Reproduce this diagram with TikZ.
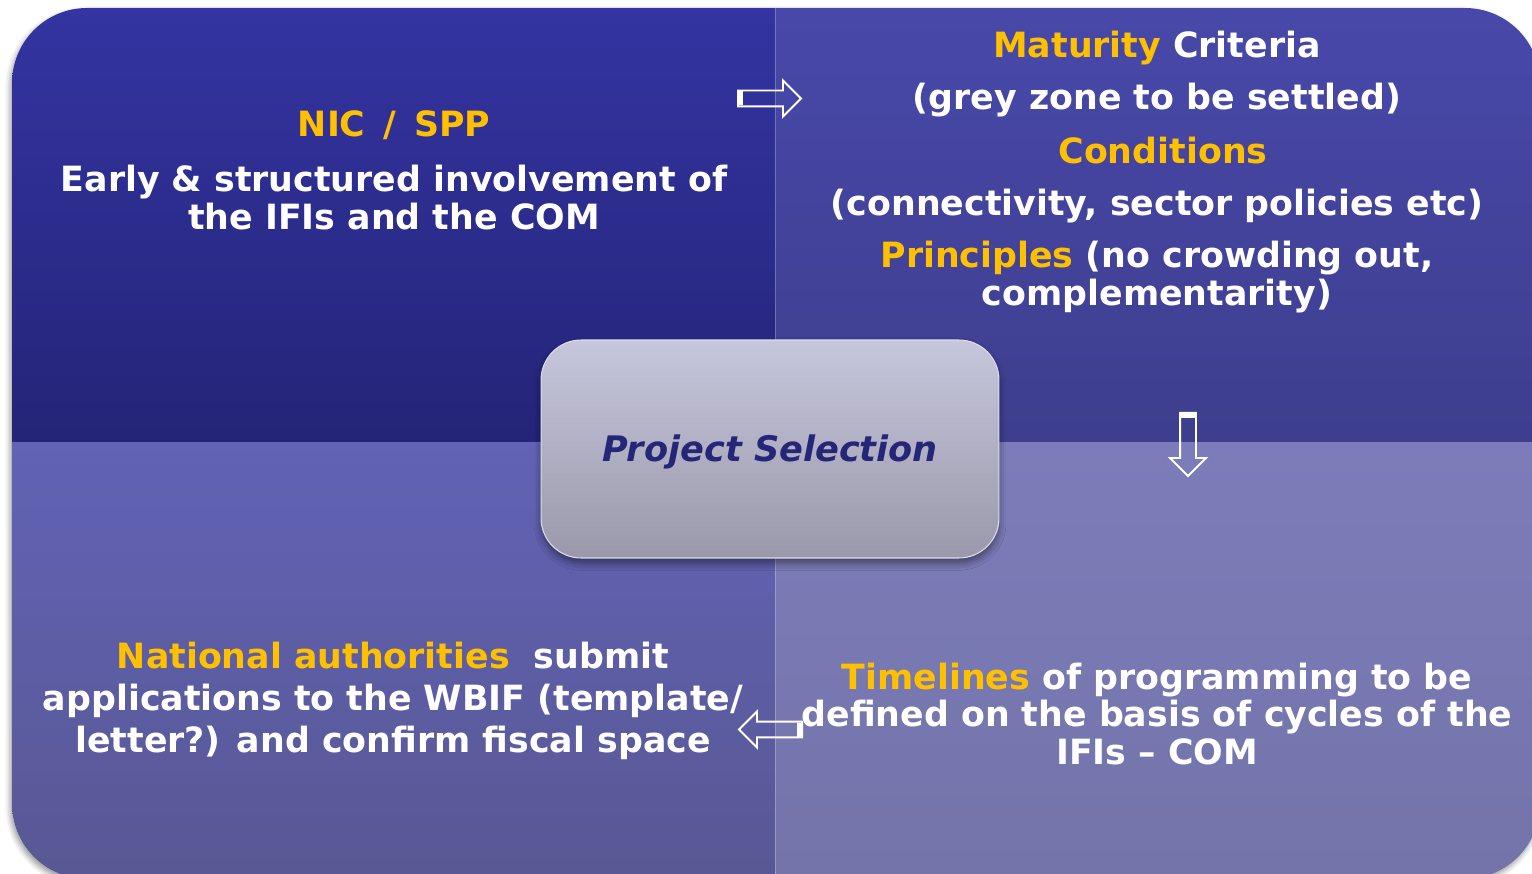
\documentclass[tikz,border=0pt]{standalone}
\usepackage{fontspec}
\setmainfont{DejaVu Sans}
\usetikzlibrary{positioning}
\usetikzlibrary{calc}
\usetikzlibrary{shapes.arrows}
\usetikzlibrary{shadows.blur}
\definecolor{oro}{RGB}{255,192,0}
\definecolor{bluA}{RGB}{52,52,162}
\definecolor{bluB}{RGB}{36,36,120}
\definecolor{violaA}{RGB}{72,72,170}
\definecolor{violaB}{RGB}{62,62,142}
\definecolor{lillaA}{RGB}{98,98,182}
\definecolor{lillaB}{RGB}{88,88,148}
\definecolor{glicineA}{RGB}{124,124,186}
\definecolor{glicineB}{RGB}{116,116,170}
\definecolor{grigioA}{RGB}{198,198,220}
\definecolor{grigioB}{RGB}{154,152,170}
\definecolor{inchiostro}{RGB}{38,38,120}
\newcommand{\evid}[1]{{\color{oro}#1}}

\begin{document}
\begin{tikzpicture}[x=0.02cm,y=-0.02cm,
testo/.style={text=white,font=\fontsize{19.8}{22}\selectfont\bfseries,align=center,inner sep=0pt,anchor=base},
testoL/.style={testo,font=\fontsize{19.8}{23.8}\selectfont\bfseries},
testoB/.style={testo,font=\fontsize{19.8}{21.3}\selectfont\bfseries},
freccia/.style={single arrow,draw=white,line width=1.1pt,minimum height=1.26cm,inner sep=0.14cm,single arrow head extend=0.2cm,anchor=tail},
selez/.style={draw=grigioA!60!white,line width=0.6pt,rounded corners=0.8cm,minimum width=9.16cm,minimum height=4.36cm,text height=16pt,text depth=1.2pt,top color=grigioA,bottom color=grigioB,text=inchiostro,font=\fontsize{20}{24}\selectfont\bfseries\itshape,blur shadow={shadow xshift=0pt,shadow yshift=-3pt,shadow blur radius=4pt,shadow opacity=45}}
]
\useasboundingbox (0,0) rectangle (1532,874);
%-- pannello
\fill[white,rounded corners=1.5cm,blur shadow={shadow xshift=-1pt,shadow yshift=-2pt,shadow blur radius=3pt,shadow opacity=40}] (12,8) rectangle (1540,879);
\begin{scope}
\clip[rounded corners=1.5cm] (12,8) rectangle (1540,879);
\shade[top color=bluA,bottom color=bluB] (12,8) rectangle (775.5,443);
\shade[top color=violaA,bottom color=violaB] (775.5,8) rectangle (1540,443);
\shade[top color=lillaA,bottom color=lillaB] (12,443) rectangle (775.5,879);
\shade[top color=glicineA,bottom color=glicineB] (775.5,443) rectangle (1540,879);
\draw[white,opacity=0.25,line width=0.5pt] (775.5,8) -- (775.5,879);
\end{scope}
%-- NIC / SPP
\node[testo] (nic) at (394,137) {\evid{NIC\ \,/\ \,SPP}};
\node[testo] (nicT) at (394,230) {Early \& structured involvement of\\the IFIs and the COM};
%-- criteri
\node[testo] (mat) at (1157,58) {\evid{Maturity} Criteria};
\node[testo] (matT) at (1157,110) {(grey zone to be settled)};
\node[testo] (cond) at (1163,164) {\evid{Conditions}};
\node[testo] (condT) at (1157,216) {(connectivity, sector policies etc)};
\node[testo] (princ) at (1157,306) {\evid{Principles} (no crowding out,\\complementarity)};
%-- autorita nazionali
\node[testoL] (naz) at (393,752) {\evid{National authorities}\ \ submit\\applications to the WBIF (template/\\letter?) and confirm fiscal space};
%-- tempi
\node[testoB] (tempi) at (1157,764) {\evid{Timelines} of programming to be\\defined on the basis of cycles of the\\IFIs – COM};
%-- frecce
\node[freccia] (fr1) at (737,98.5) {};
\fill[white] ($(fr1.tail)+(0,-7)$) rectangle ($(fr1.tail)+(6,7)$);
\node[freccia,shape border rotate=270] (fr2) at (1188,412) {};
\fill[white] ($(fr2.tail)+(-7,0)$) rectangle ($(fr2.tail)+(7,6)$);
\node[freccia,shape border rotate=180] (fr3) at (803,729.5) {};
\fill[white] ($(fr3.tail)+(-6,-7)$) rectangle ($(fr3.tail)+(0,7)$);
%-- centro
\node[selez] (ps) at (770,449) {Project Selection};
\end{tikzpicture}
\end{document}
